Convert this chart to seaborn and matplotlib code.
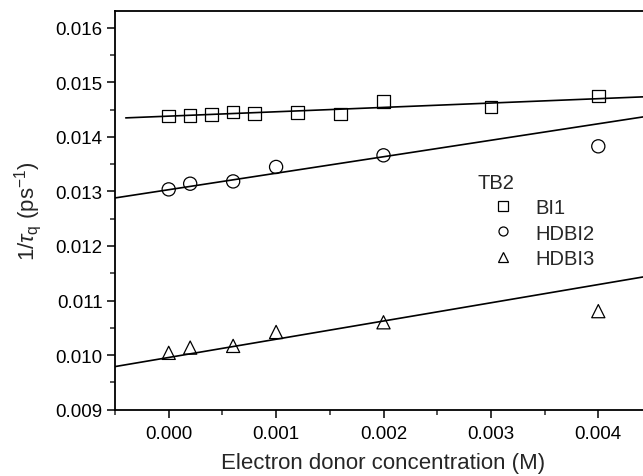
import numpy as np
import pandas as pd
import matplotlib
matplotlib.use("Agg")
import matplotlib.pyplot as plt
from matplotlib.lines import Line2D
from matplotlib.ticker import MultipleLocator, FormatStrFormatter
import seaborn as sns

# data (concentration in M, rate in ps^-1)
conc_bi1 = [0.0, 0.0002, 0.0004, 0.0006, 0.0008, 0.0012, 0.0016, 0.002, 0.003, 0.004]
rate_bi1 = [0.014383, 0.014394, 0.014407, 0.014450, 0.014426, 0.014444, 0.014413, 0.014651, 0.014549, 0.014743]
conc_hdbi = [0.0, 0.0002, 0.0006, 0.001, 0.002, 0.004]
rate_hdbi2 = [0.013037, 0.013141, 0.013183, 0.013448, 0.013661, 0.013826]
rate_hdbi3 = [0.010042, 0.010138, 0.010169, 0.010424, 0.010602, 0.010806]

series_names = ['BI1', 'HDBI2', 'HDBI3']
series_markers = ['s', 'o', '^']
# linear fits: slope, intercept, start of the drawn line
fit_slope = [0.080, 0.302, 0.334]
fit_intercept = [0.014379, 0.013031, 0.009957]
fit_start = [-0.0004, -0.0006, -0.0006]
fit_end = 0.0046

sns.set_style("ticks")
plt.rcParams['font.family'] = ['Liberation Sans', 'DejaVu Sans']
plt.rcParams['mathtext.fontset'] = 'custom'
plt.rcParams['mathtext.rm'] = 'Liberation Sans'
plt.rcParams['mathtext.it'] = 'Liberation Sans:italic'

fig = plt.figure(figsize=(6.43, 4.77), dpi=100)
ax = fig.add_axes([115/643, 66.3/477, 537/643, 398.4/477])

xs = [conc_bi1, conc_hdbi, conc_hdbi]
ys = [rate_bi1, rate_hdbi2, rate_hdbi3]
sizes = [80, 90, 90]

for name, m, x, y, s, k, b, x0 in zip(series_names, series_markers, xs, ys, sizes,
                                      fit_slope, fit_intercept, fit_start):
    df = pd.DataFrame({'conc': x, 'rate': y})
    sns.scatterplot(ax=ax, data=df, x='conc', y='rate', marker=m, s=s,
                    facecolors='none', edgecolors='black', linewidths=0.9, zorder=3)
    xf = np.array([x0, fit_end])
    sns.lineplot(ax=ax, x=xf, y=k * xf + b, color='black', lw=1.2, zorder=2)

ax.set_xlim(-0.0005, 0.0045)
ax.set_ylim(0.009, 0.0163)
ax.xaxis.set_major_locator(MultipleLocator(0.001))
ax.xaxis.set_minor_locator(MultipleLocator(0.0005))
ax.yaxis.set_major_locator(MultipleLocator(0.001))
ax.yaxis.set_minor_locator(MultipleLocator(0.0005))
ax.xaxis.set_major_formatter(FormatStrFormatter('%.3f'))
ax.yaxis.set_major_formatter(FormatStrFormatter('%.3f'))
ax.tick_params(which='major', direction='out', length=6, width=1.1, labelsize=13.5,
               colors='black', pad=3)
ax.tick_params(axis='x', which='major', pad=5)
ax.tick_params(which='minor', direction='out', length=3.5, width=1.1)
for sp in ax.spines.values():
    sp.set_linewidth(1.3)
    sp.set_color('black')
ax.spines['right'].set_visible(False)

ax.set_xlabel('Electron donor concentration (M)', fontsize=16, labelpad=7)
ax.set_ylabel(r'1/$\tau_{\rm q}$ (ps$^{-1}$)', fontsize=16, labelpad=8)

handles = [Line2D([], [], ls='none', marker=m, mfc='none', mec='black', ms=6.5, mew=0.9)
           for m in series_markers]
leg = ax.legend(handles, series_names, title='TB2', loc='upper left',
                bbox_to_anchor=(473/643, 1 - 170/477), bbox_transform=fig.transFigure,
                frameon=False, fontsize=14.5, title_fontsize=14.5, handlelength=2.6,
                handletextpad=0.3, labelspacing=0.31, borderpad=0.2, borderaxespad=0)
leg._legend_box.align = 'left'

plt.savefig('out.png', dpi=100)
plt.close()
